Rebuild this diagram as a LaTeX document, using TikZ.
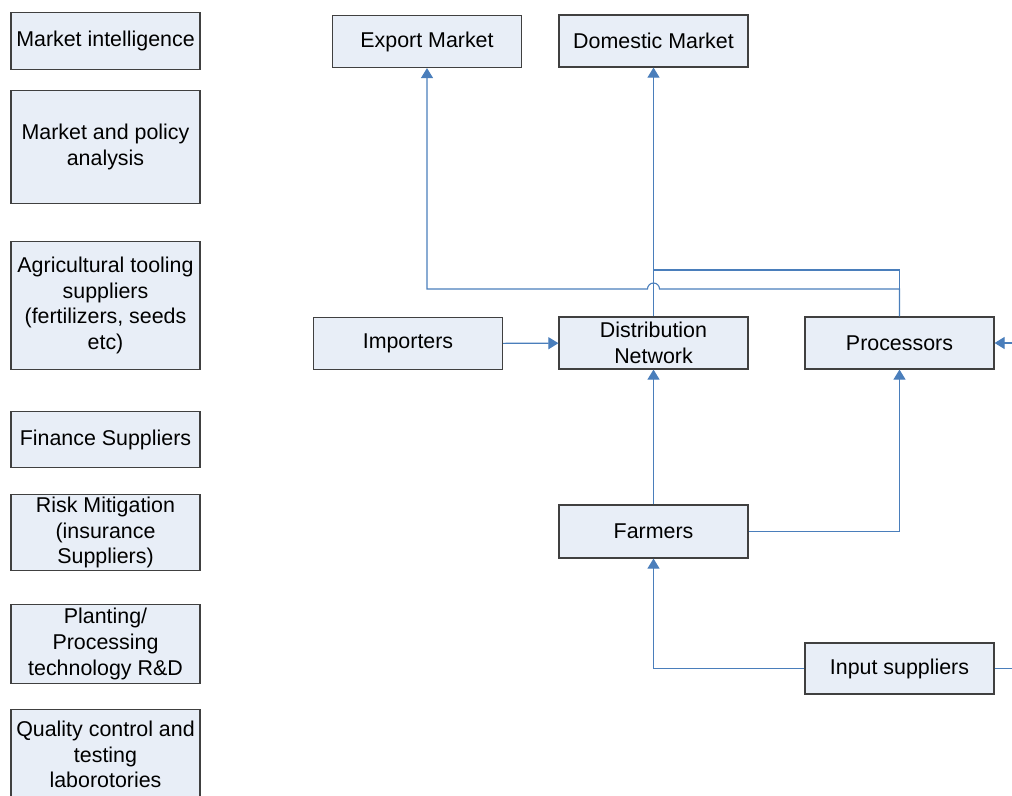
\documentclass[tikz,border=0pt]{standalone}
\usepackage{fontspec}
\setmainfont{Liberation Sans}
\usetikzlibrary{arrows.meta, positioning, calc}

\definecolor{boxfill}{HTML}{E8EEF7}
\definecolor{boxline}{HTML}{404040}
\definecolor{linkblue}{HTML}{4A7EBB}

\begin{document}
\begin{tikzpicture}[x=0.5pt, y=-0.5pt,
    box/.style={draw=boxline, fill=boxfill, line width=0.6pt, inner sep=0pt,
        minimum width=94.5pt, align=center,
        font=\fontsize{10.7}{12.8}\selectfont},
    link/.style={draw=linkblue, line width=0.55pt},
    >={Triangle[length=5pt, width=6pt]}]
    \clip (0,0) rectangle (1012,796);
    \useasboundingbox (0,0) rectangle (1012,796);

    % Support services
    \node (MI) [box, minimum height=28.5pt] at (105.5,41) {Market intelligence};
    \node (MPA) [box, minimum height=56.5pt] at (105.5,147) {Market and policy\\analysis};
    \node (ATS) [box, minimum height=64pt] at (105.5,305.5) {Agricultural tooling\\suppliers\\(fertilizers, seeds\\etc)};
    \node (FIN) [box, minimum height=28pt] at (105.5,439.5) {Finance Suppliers};
    \node (RISK) [box, minimum height=38pt] at (105.5,532.5) {Risk Mitigation\\(insurance\\Suppliers)};
    \node (RD) [box, minimum height=39.5pt] at (105.5,644) {Planting/\\Processing\\technology R\&D};
    \node (QC) [box, minimum height=45pt] at (105.5,754.5) {Quality control and\\testing\\laborotories};

    % Value chain
    \node (EXP) [box, minimum height=26pt] at (427,41.5) {Export Market};
    \node (DOM) [box, minimum height=26pt] at (653.5,41) {Domestic Market};
    \node (IMP) [box, minimum height=26pt] at (408,343.5) {Importers};
    \node (DIST) [box, minimum height=26pt] at (653.5,343) {Distribution\\Network};
    \node (PROC) [box, minimum height=26pt] at (899.5,343) {Processors};
    \node (FARM) [box, minimum height=26.5pt] at (653.5,531.5) {Farmers};
    \node (INP) [box, minimum height=25.5pt] at (899.5,668.5) {Input suppliers};

    % Free ends and junctions
    \coordinate (hop) at (653.5,289);
    \coordinate (join) at (653.5,270);
    \coordinate (procin) at (1014,343);
    \coordinate (inpout) at (1014,668.5);

    % Flows
    \draw[link, ->] (IMP) -- (DIST);
    \draw[link, ->] (FARM) -- (DIST);
    \draw[link, ->] (FARM.east) -| (PROC.south);
    \draw[link, ->] (INP.west) -| (FARM.south);
    \draw[link] (INP.east) -- (inpout);
    \draw[link, ->] (procin) -- (PROC.east);
    \draw[link, ->] (DIST.north) -- (DOM.south);
    \draw[link] (PROC.north) |- (join);
    \draw[link, ->] (PROC.north) |- ([xshift=3pt]hop)
        arc[start angle=0, end angle=180, radius=3pt] -| (EXP.south);
\end{tikzpicture}
\end{document}
